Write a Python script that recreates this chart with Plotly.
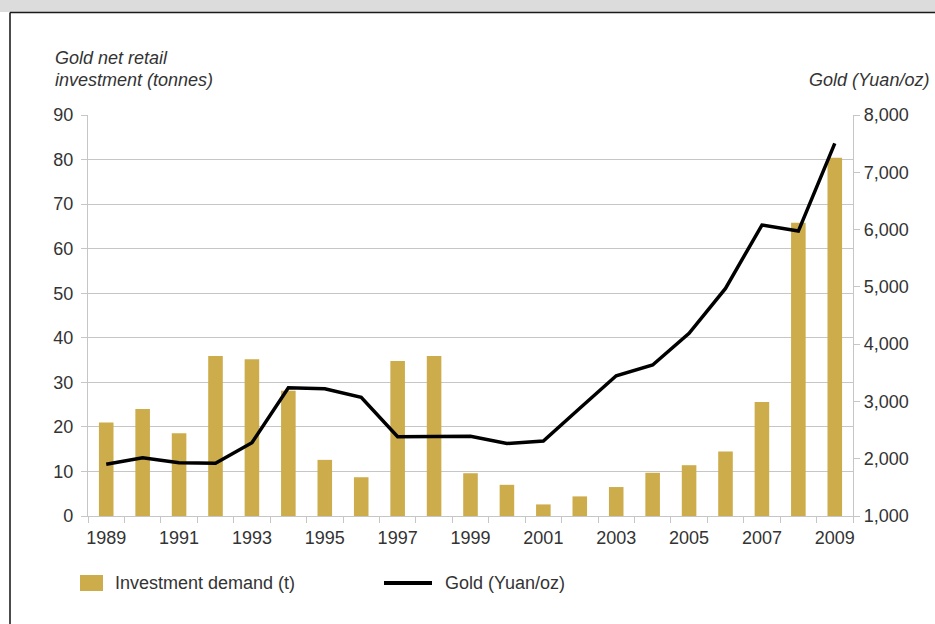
import plotly.graph_objects as go

# Annual data, 1989-2009
years = [str(y) for y in range(1989, 2010)]
investment_t = [21.0, 24.0, 18.6, 35.9, 35.2, 28.1, 12.6, 8.7, 34.8, 35.9,
                9.6, 7.0, 2.6, 4.4, 6.5, 9.7, 11.4, 14.5, 25.6, 65.8, 80.4]
gold_yuan_oz = [1902, 2018, 1930, 1920, 2279, 3239, 3222, 3072, 2384, 2384,
                2390, 2265, 2310, 2880, 3449, 3635, 4188, 4973, 6079, 5974, 7504]
x_tick_text = [y if int(y) % 2 == 1 else "" for y in years]
series_names = ["Investment demand (t)", "Gold (Yuan/oz)"]

W, H = 935, 624
L, R, T, B = 88, 82, 115, 108
PW, PH = W - L - R, H - T - B


def px_x(v):
    return (v - L) / PW


def px_y(v):
    return (H - B - v) / PH


FONT = "Liberation Sans, Arial, Helvetica, sans-serif"
TXT = "#333333"
GRID = "#c6c6c6"
GOLD = "#cdac4b"

fig = go.Figure()
fig.add_trace(go.Bar(
    x=years, y=investment_t, name=series_names[0],
    marker=dict(color=GOLD, line=dict(width=0)), width=0.4, yaxis="y",
))
fig.add_trace(go.Scatter(
    x=years, y=gold_yuan_oz, name=series_names[1], mode="lines",
    line=dict(color="black", width=3.5), yaxis="y2",
))

fig.update_layout(
    width=W, height=H,
    margin=dict(l=L, r=R, t=T, b=B),
    paper_bgcolor="white", plot_bgcolor="white",
    font=dict(family=FONT, size=18, color=TXT),
    showlegend=False,
    xaxis=dict(type="category", tickmode="array", tickvals=years,
               ticktext=x_tick_text, tickson="boundaries", ticks="outside",
               ticklen=6, tickcolor=GRID, showline=True, linecolor=GRID,
               linewidth=1.2, showgrid=False, tickangle=0,
               ticklabelstandoff=5, tickfont=dict(size=18, color=TXT)),
    yaxis=dict(range=[0, 90], dtick=10, showgrid=True, gridcolor=GRID,
               gridwidth=1.2, showline=True, linecolor=GRID, linewidth=1.2,
               ticks="outside", ticklen=6, tickcolor=GRID, zeroline=False,
               ticklabelstandoff=4, tickfont=dict(size=18, color=TXT)),
    yaxis2=dict(range=[1000, 8000], dtick=1000, tickformat=",d",
                overlaying="y", side="right", showgrid=False, showline=True,
                linecolor=GRID, linewidth=1.2, ticks="outside", ticklen=6,
                tickcolor=GRID, zeroline=False,
                tickfont=dict(size=18, color=TXT)),
)

# Axis titles
title_font = dict(family=FONT, size=18, color=TXT, style="italic")
fig.add_annotation(text="Gold net retail", x=px_x(53), y=px_y(58),
                   xref="paper", yref="paper", xanchor="left",
                   yanchor="middle", showarrow=False, font=title_font)
fig.add_annotation(text="investment (tonnes)", x=px_x(53), y=px_y(80),
                   xref="paper", yref="paper", xanchor="left",
                   yanchor="middle", showarrow=False, font=title_font)
fig.add_annotation(text="Gold (Yuan/oz)", x=px_x(931), y=px_y(80),
                   xref="paper", yref="paper", xanchor="right",
                   yanchor="middle", showarrow=False, font=title_font)

# Legend key below the chart
legend_font = dict(family=FONT, size=18, color=TXT)
fig.add_shape(type="rect", xref="paper", yref="paper",
              x0=px_x(80), x1=px_x(103), y0=px_y(591), y1=px_y(575),
              fillcolor=GOLD, line=dict(width=0))
fig.add_annotation(text=series_names[0], x=px_x(113), y=px_y(583),
                   xref="paper", yref="paper", xanchor="left",
                   yanchor="middle", showarrow=False, font=legend_font)
fig.add_shape(type="line", xref="paper", yref="paper",
              x0=px_x(384), x1=px_x(432), y0=px_y(583), y1=px_y(583),
              line=dict(color="black", width=4))
fig.add_annotation(text=series_names[1], x=px_x(443), y=px_y(583),
                   xref="paper", yref="paper", xanchor="left",
                   yanchor="middle", showarrow=False, font=legend_font)

# Page frame: header band, rule beneath it and the left border
fig.add_shape(type="rect", xref="paper", yref="paper",
              x0=px_x(0), x1=px_x(W), y0=px_y(12), y1=px_y(0),
              fillcolor="#dcdcdc", line=dict(width=0), layer="below")
fig.add_shape(type="line", xref="paper", yref="paper",
              x0=px_x(10), x1=px_x(W), y0=px_y(12.5), y1=px_y(12.5),
              line=dict(color="#1a1a1a", width=1.5))
fig.add_shape(type="line", xref="paper", yref="paper",
              x0=px_x(10), x1=px_x(10), y0=px_y(12.5), y1=px_y(H),
              line=dict(color="#111111", width=1.5))

fig.write_html("out.html")
